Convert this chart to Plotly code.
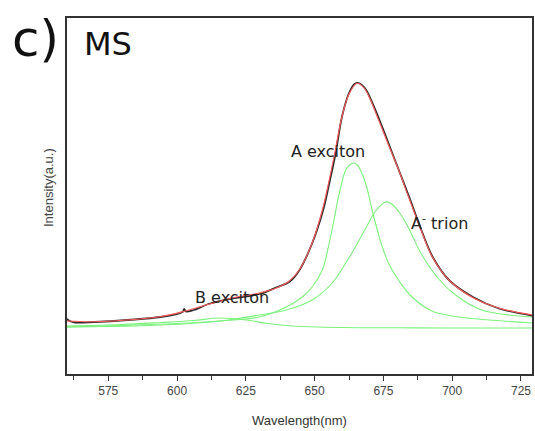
import plotly.graph_objects as go

# ---- data ----
wl_meas = [560, 561, 563, 570, 582, 594, 602, 602.6, 603.2, 606, 612, 620, 630, 636, 641,
           644.5, 649, 653, 655.5, 657.5, 660, 662.5, 664.5, 666, 668.5, 670.5, 674,
           677.5, 681, 684.5, 688.5, 693, 699, 707.5, 717, 729]
int_meas = [55, 53, 51.5, 52, 54, 57, 62, 65, 62.5, 64, 70.5, 75.5, 80, 86.5, 92.5,
            104, 130, 163, 193, 219, 258, 281, 290, 291, 285, 274, 251,
            226, 201, 176, 146, 116.5, 93.5, 77, 65.5, 58.5]

wl_fit = [560.0, 569.4, 581.7, 593.7, 602.0, 611.8, 620.1, 629.9, 636.1, 640.8, 644.4,
          649.1, 652.8, 655.3, 657.1, 660.0, 662.5, 665.4, 668.0, 670.0, 673.4, 677.0,
          680.7, 684.0, 688.0, 692.6, 698.8, 707.1, 716.9, 729.2]
int_fit = [53, 52.3, 54, 57.3, 62.3, 70, 76, 81, 86, 93, 104,
           131, 164, 194, 218, 258, 280, 290.7, 286, 276, 253, 228,
           203, 178, 149, 118, 94, 77, 66, 59]

wl_a = [560, 580, 600, 615, 629.9, 639.7, 645.5, 649.1, 652.8, 655.3, 657.1, 658.9,
        661.3, 662.7, 664.1, 665.5, 666.8, 668.6, 671.6, 674.5, 677.0, 680.7, 685.4,
        692.6, 700, 707.1, 729.2]
int_a = [47, 48.5, 50.5, 53, 57, 67, 77, 87, 104, 131, 155, 180,
         204, 209, 211, 209, 203, 190, 156, 128, 110, 93, 77,
         63, 58, 55.5, 51]

wl_trion = [560, 590, 610, 620, 629.9, 639.7, 649.1, 656.4, 661.3, 665.0, 668.6, 672.2,
            675.8, 678, 681.7, 684.3, 689.0, 695.1, 701.2, 710.7, 729.2]
int_trion = [47, 48.5, 51.5, 54.5, 59, 64, 74, 91, 111, 128, 146, 163,
             172, 170, 158, 145, 119, 95, 79, 64, 57]

wl_b = [560, 580, 594, 606, 615.4, 625.2, 633, 642, 660, 680, 700, 729]
int_b = [48, 49.5, 51.5, 53.5, 56, 54, 50.5, 48, 46.5, 46.2, 46, 46]

tick_vals = [575, 600, 625, 650, 675, 700, 725]
tick_text = ["575", "600", "625", "650", "675", "700", "725"]

peak_labels = ["A exciton", "A<sup>-</sup> trion", "B exciton"]
label_wl = [640.8, 684.3, 605.7]
label_int = [223, 152, 77]

GREEN = "#7cf27c"

fig = go.Figure()
for wl, it in [(wl_b, int_b), (wl_trion, int_trion), (wl_a, int_a)]:
    fig.add_trace(go.Scatter(x=wl, y=it, mode="lines",
                             line=dict(color=GREEN, width=1.1, shape="spline"),
                             hoverinfo="skip", showlegend=False))
fig.add_trace(go.Scatter(x=wl_meas, y=int_meas, mode="lines",
                         line=dict(color="#2a2a2a", width=1.8, shape="spline"),
                         showlegend=False))
fig.add_trace(go.Scatter(x=wl_fit, y=int_fit, mode="lines",
                         line=dict(color="#ff5a5a", width=1.1, shape="spline"),
                         showlegend=False))

for t, x, y in zip(peak_labels, label_wl, label_int):
    fig.add_annotation(x=x, y=y, text=t, showarrow=False, xanchor="left", yanchor="middle",
                       font=dict(family="DejaVu Sans", size=16, color="#222"))

fig.add_annotation(xref="paper", yref="paper", x=-0.122, y=0.941, text="c)", showarrow=False,
                   xanchor="left", yanchor="middle",
                   font=dict(family="DejaVu Sans", size=50, color="#111"))
fig.add_annotation(xref="paper", yref="paper", x=0.033, y=0.927, text="MS", showarrow=False,
                   xanchor="left", yanchor="middle",
                   font=dict(family="DejaVu Sans", size=32, color="#111"))
fig.add_annotation(xref="paper", yref="paper", x=-0.041, y=0.525, text="Intensity(a.u.)",
                   showarrow=False, textangle=-90, xanchor="center", yanchor="middle",
                   font=dict(family="Liberation Sans", size=13, color="#444"))

fig.update_layout(
    width=535, height=431,
    margin=dict(l=67, r=1, t=18, b=57),
    paper_bgcolor="white", plot_bgcolor="white",
    xaxis=dict(range=[560, 729], tickvals=tick_vals, ticktext=tick_text,
               ticks="outside", ticklen=5, tickwidth=1.2, tickcolor="#333",
               showline=True, linecolor="#333", linewidth=1.6, mirror=True,
               showgrid=False, zeroline=False,
               tickfont=dict(family="Liberation Sans", size=12, color="#444"),
               minor=dict(ticks="outside", ticklen=4, tickwidth=1.2, tickcolor="#333",
                          tick0=562.5, dtick=25),
               title=dict(text="Wavelength(nm)", standoff=19,
                          font=dict(family="Liberation Sans", size=13, color="#333"))),
    yaxis=dict(range=[0, 356], showticklabels=False, ticks="",
               showline=True, linecolor="#333", linewidth=1.6, mirror=True,
               showgrid=False, zeroline=False),
)

fig.write_html("out.html")
